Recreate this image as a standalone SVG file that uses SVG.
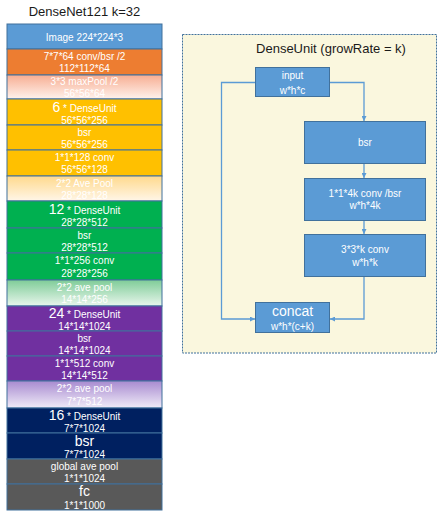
<svg xmlns="http://www.w3.org/2000/svg" width="445" height="516" viewBox="0 0 445 516">
<style>
.t{font-family:"Liberation Sans",Arial,sans-serif;fill:#fff;font-size:10px;text-anchor:middle}
.big{font-size:14px}
.row{stroke:#41719C;stroke-width:1}
.box{fill:#5B9BD5;stroke:#41719C;stroke-width:1}
.ttl{font-family:"Liberation Sans",Arial,sans-serif;fill:#1a1a1a;font-size:13px;text-anchor:middle}
.c{fill:none;stroke:#5B9BD5;stroke-width:1.3}
</style>
<defs>
<linearGradient id="gPink" x1="0" y1="0" x2="0" y2="1"><stop offset="0" stop-color="#F7AE93"/><stop offset="1" stop-color="#FFF2EC"/></linearGradient>
<linearGradient id="gYel" x1="0" y1="0" x2="0" y2="1"><stop offset="0" stop-color="#FFD98C"/><stop offset="1" stop-color="#FFF6E8"/></linearGradient>
<linearGradient id="gGrn" x1="0" y1="0" x2="0" y2="1"><stop offset="0" stop-color="#7FCC98"/><stop offset="1" stop-color="#E8F6EC"/></linearGradient>
<linearGradient id="gPur" x1="0" y1="0" x2="0" y2="1"><stop offset="0" stop-color="#A88BD0"/><stop offset="1" stop-color="#F0EBF8"/></linearGradient>
<marker id="arr" viewBox="0 0 6 6" refX="6" refY="3" markerWidth="5" markerHeight="5" orient="auto" markerUnits="userSpaceOnUse">
<path d="M0,0 L6,3 L0,6 Z" fill="#5B9BD5"/>
</marker>
</defs>
<rect width="445" height="516" fill="#fff"/>
<text class="ttl" x="84.5" y="16" font-size="14">DenseNet121 k=32</text>

<g id="network">
<g id="r0"><rect class="row" x="7" y="24" width="155" height="25" fill="#5B9BD5"/><text class="t" x="84.5" y="41">Image 224*224*3</text></g>
<g id="r1"><rect class="row" x="7" y="49" width="155" height="26" fill="#ED7D31"/><text class="t" x="84.5" y="59.5">7*7*64 conv/bsr /2</text><text class="t" x="84.5" y="72">112*112*64</text></g>
<g id="r2"><rect class="row" x="7" y="75" width="155" height="24" fill="url(#gPink)"/><text class="t" x="84.5" y="84.5">3*3 maxPool /2</text><text class="t" x="84.5" y="97">56*56*64</text></g>
<g id="r3"><rect class="row" x="7" y="99" width="155" height="26" fill="#FFC000"/><text class="t" x="84.5" y="111.5"><tspan font-size="14">6</tspan> * DenseUnit</text><text class="t" x="84.5" y="124">56*56*256</text></g>
<g id="r4"><rect class="row" x="7" y="125" width="155" height="25" fill="#FFC000"/><text class="t" x="84.5" y="135.5">bsr</text><text class="t" x="84.5" y="148">56*56*256</text></g>
<g id="r5"><rect class="row" x="7" y="150" width="155" height="26" fill="#FFC000"/><text class="t" x="84.5" y="160.5">1*1*128 conv</text><text class="t" x="84.5" y="173">56*56*128</text></g>
<g id="r6"><rect class="row" x="7" y="176" width="155" height="25" fill="url(#gYel)"/><text class="t" x="84.5" y="186.5">2*2 Ave Pool</text><text class="t" x="84.5" y="199">28*28*128</text></g>
<g id="r7"><rect class="row" x="7" y="201" width="155" height="27" fill="#00B050"/><text class="t" x="84.5" y="213.5"><tspan font-size="14">12</tspan> * DenseUnit</text><text class="t" x="84.5" y="226">28*28*512</text></g>
<g id="r8"><rect class="row" x="7" y="228" width="155" height="25" fill="#00B050"/><text class="t" x="84.5" y="238.5">bsr</text><text class="t" x="84.5" y="251">28*28*512</text></g>
<g id="r9"><rect class="row" x="7" y="253" width="155" height="27" fill="#00B050"/><text class="t" x="84.5" y="264">1*1*256 conv</text><text class="t" x="84.5" y="277">28*28*256</text></g>
<g id="r10"><rect class="row" x="7" y="280" width="155" height="26" fill="url(#gGrn)"/><text class="t" x="84.5" y="290.5">2*2 ave pool</text><text class="t" x="84.5" y="303">14*14*256</text></g>
<g id="r11"><rect class="row" x="7" y="306" width="155" height="25" fill="#7030A0"/><text class="t" x="84.5" y="318"><tspan font-size="14">24</tspan> * DenseUnit</text><text class="t" x="84.5" y="330">14*14*1024</text></g>
<g id="r12"><rect class="row" x="7" y="331" width="155" height="25" fill="#7030A0"/><text class="t" x="84.5" y="341.5">bsr</text><text class="t" x="84.5" y="353.5">14*14*1024</text></g>
<g id="r13"><rect class="row" x="7" y="356" width="155" height="25" fill="#7030A0"/><text class="t" x="84.5" y="366.5">1*1*512 conv</text><text class="t" x="84.5" y="378.5">14*14*512</text></g>
<g id="r14"><rect class="row" x="7" y="381" width="155" height="27" fill="url(#gPur)"/><text class="t" x="84.5" y="392">2*2 ave pool</text><text class="t" x="84.5" y="404.5">7*7*512</text></g>
<g id="r15"><rect class="row" x="7" y="408" width="155" height="25" fill="#002060"/><text class="t" x="84.5" y="420"><tspan font-size="14">16</tspan> * DenseUnit</text><text class="t" x="84.5" y="432">7*7*1024</text></g>
<g id="r16"><rect class="row" x="7" y="433" width="155" height="26" fill="#002060"/><text class="t big" x="84.5" y="446">bsr</text><text class="t" x="84.5" y="457.5">7*7*1024</text></g>
<g id="r17"><rect class="row" x="7" y="459" width="155" height="25" fill="#595959"/><text class="t" x="84.5" y="469.5">global ave pool</text><text class="t" x="84.5" y="482">1*1*1024</text></g>
<g id="r18"><rect class="row" x="7" y="484" width="155" height="26" fill="#595959"/><text class="t big" x="84.5" y="496">fc</text><text class="t" x="84.5" y="509">1*1*1000</text></g>
</g>

<g id="panel">
<rect x="182.5" y="34.5" width="254" height="318.5" fill="#FAF7DE" stroke="#41719C" stroke-width="1" stroke-dasharray="2,1"/>
<text class="ttl" x="331" y="52.5">DenseUnit (growRate = k)</text>
</g>

<g id="connectors">
<path class="c" d="M255,82.5 H221.5 V319 H255" marker-end="url(#arr)"/>
<path class="c" d="M329,82.5 H364 V121" marker-end="url(#arr)"/>
<path class="c" d="M364,163 V178" marker-end="url(#arr)"/>
<path class="c" d="M364,220 V234" marker-end="url(#arr)"/>
<path class="c" d="M364,276 V319 H330" marker-end="url(#arr)"/>
</g>

<g id="input"><rect class="box" x="255.5" y="67.5" width="74" height="29"/><text class="t" x="292.5" y="79">input</text><text class="t" x="292.5" y="94">w*h*c</text></g>
<g id="bsr"><rect class="box" x="304.5" y="121.5" width="121" height="42"/><text class="t" x="365" y="146">bsr</text></g>
<g id="conv1"><rect class="box" x="304.5" y="178.5" width="121" height="42"/><text class="t" x="365" y="196.5">1*1*4k conv /bsr</text><text class="t" x="365" y="209">w*h*4k</text></g>
<g id="conv3"><rect class="box" x="304.5" y="234.5" width="121" height="42"/><text class="t" x="365" y="253">3*3*k conv</text><text class="t" x="365" y="266">w*h*k</text></g>
<g id="concat"><rect class="box" x="255.5" y="302.5" width="74" height="30"/><text class="t big" x="292.5" y="316">concat</text><text class="t" x="292.5" y="329.5">w*h*(c+k)</text></g>
</svg>
